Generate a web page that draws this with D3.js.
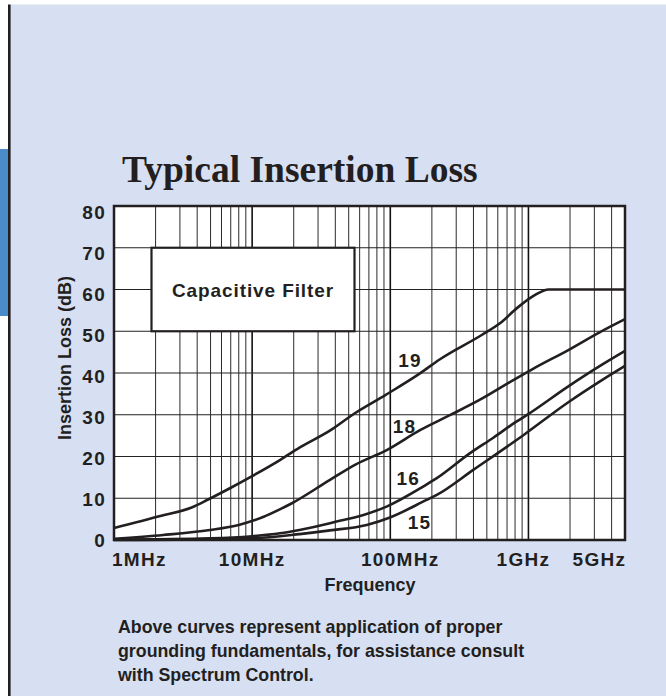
<!DOCTYPE html>
<html>
<head>
<meta charset="utf-8">
<script src="https://cdn.jsdelivr.net/npm/d3@7"></script>
<style>
  html, body { margin: 0; padding: 0; background: #fff; }
  svg { display: block; }
</style>
</head>
<body>
<svg id="chart" width="666" height="696"></svg>
<script>
// ---- data: frequency in MHz, insertion loss in dB ----
const curveNames = ["19", "18", "16", "15"];

const freq19 = [1, 2.2, 3.65, 4.8, 6.9, 10, 16, 22, 37, 55, 92, 164, 229, 459, 622, 830, 1080, 1210, 1390, 5000];
const loss19 = [2.9, 5.8, 7.8, 9.7, 12.4, 15.3, 19.2, 22.1, 26.3, 30.3, 34.7, 39.9, 43.3, 49.1, 51.9, 55.6, 58.4, 59.3, 60, 60];

const freq18 = [1, 2.27, 4.95, 8, 12, 16, 19.4, 36.6, 55.5, 95, 164, 270, 446, 777, 1080, 1944, 3296, 5000];
const loss18 = [0.3, 1.2, 2.4, 3.6, 5.5, 7.4, 8.8, 14.4, 18.0, 21.6, 26.3, 29.9, 33.6, 38.3, 41.0, 45.5, 49.8, 52.9];

const freq16 = [1, 5, 10, 15.9, 22, 36.6, 43, 64, 94, 173, 217, 378, 557, 822, 971, 1944, 3296, 5000];
const loss16 = [0.1, 0.4, 0.9, 1.6, 2.4, 4.0, 4.6, 6.0, 8.0, 12.8, 14.8, 20.8, 24.5, 28.4, 29.9, 36.8, 41.7, 45.3];

const freq15 = [1, 10, 22, 36.6, 67.5, 99.5, 183, 217, 399, 918, 1944, 3296, 5000];
const loss15 = [0, 0.4, 1.4, 2.3, 3.6, 5.4, 9.6, 10.8, 16.8, 25.1, 33.0, 38.0, 41.7];

const yTickValues = [0, 10, 20, 30, 40, 50, 60, 70, 80];
const xTickValues = [1, 10, 100, 1000, 5000];
const xTickLabels = ["1MHz", "10MHz", "100MHz", "1GHz", "5GHz"];

const titleText = "Typical Insertion Loss";
const boxText = "Capacitive Filter";
const yTitle = "Insertion Loss (dB)";
const xTitle = "Frequency";
const noteLines = [
  "Above curves represent application of proper",
  "grounding fundamentals, for assistance consult",
  "with Spectrum Control."
];

// ---- drawing ----
const INK = "#231f20";
const SANS = "'Liberation Sans', Arial, Helvetica, sans-serif";
const SERIF = "'Liberation Serif', 'Times New Roman', serif";

const svg = d3.select("#chart");

// page: white margin, blue panel, dark rule and side tab
svg.append("rect").attr("width", 666).attr("height", 696).attr("fill", "#fff");
svg.append("rect").attr("x", 10).attr("y", 4.5).attr("width", 656).attr("height", 692).attr("fill", "#d7e0f2");
svg.append("rect").attr("x", 0).attr("y", 149).attr("width", 8).attr("height", 167).attr("fill", "#4a8bca");
svg.append("rect").attr("x", 8).attr("y", 4.5).attr("width", 2.6).attr("height", 692).attr("fill", INK);

svg.append("text")
  .attr("x", 122).attr("y", 182)
  .attr("font-family", SERIF).attr("font-weight", "bold").attr("font-size", 37.5)
  .attr("fill", INK)
  .text(titleText);

const plot = { left: 114, right: 625, top: 206, bottom: 540 };

const x = d3.scaleLog().domain([1, 5000]).range([plot.left, plot.right]);
const y = d3.scaleLinear().domain([0, 80]).range([plot.bottom, plot.top]);
// the dB figures down the left are set on a slightly tighter pitch than the grid
const yLabel = d3.scaleLinear().domain([0, 80]).range([539.5, 211.5]);

const g = svg.append("g");

g.append("rect")
  .attr("x", plot.left).attr("y", plot.top)
  .attr("width", plot.right - plot.left).attr("height", plot.bottom - plot.top)
  .attr("fill", "#fff");

// vertical log grid: 1..9 per decade
const gridFreqs = [];
[1, 10, 100, 1000].forEach(d => {
  for (let m = 1; m <= 9; m++) {
    const f = d * m;
    if (f > 1 && f < 5000) gridFreqs.push(f);
  }
});
const isDecade = f => [10, 100, 1000].includes(f);
g.append("g").selectAll("line").data(gridFreqs).join("line")
  .attr("x1", d => x(d)).attr("x2", d => x(d))
  .attr("y1", plot.top).attr("y2", plot.bottom)
  .attr("stroke", d => isDecade(d) ? "#111" : "#2a2a2a")
  .attr("stroke-width", d => isDecade(d) ? 1.6 : 1);

// horizontal grid every 10 dB
g.append("g").selectAll("line").data(yTickValues.slice(1, -1)).join("line")
  .attr("x1", plot.left).attr("x2", plot.right)
  .attr("y1", d => y(d)).attr("y2", d => y(d))
  .attr("stroke", "#222").attr("stroke-width", 1);

// legend box
const boxLeft = 151.5, boxRight = 354.5;
g.append("rect")
  .attr("x", boxLeft).attr("y", y(70))
  .attr("width", boxRight - boxLeft).attr("height", y(50) - y(70))
  .attr("fill", "#fff").attr("stroke", INK).attr("stroke-width", 2.2);
g.append("text")
  .attr("x", (boxLeft + boxRight) / 2).attr("y", y(60) + 7)
  .attr("text-anchor", "middle")
  .attr("font-family", SANS).attr("font-weight", "bold").attr("font-size", 19)
  .attr("letter-spacing", 0.9)
  .attr("fill", INK)
  .text(boxText);

// curves
const series = [
  { name: "19", f: freq19, v: loss19 },
  { name: "18", f: freq18, v: loss18 },
  { name: "16", f: freq16, v: loss16 },
  { name: "15", f: freq15, v: loss15 }
];
const line = d3.line()
  .x(d => x(d[0])).y(d => y(d[1]))
  .curve(d3.curveMonotoneX);

g.append("g").selectAll("path").data(series).join("path")
  .attr("d", s => line(s.f.map((f, i) => [f, s.v[i]])))
  .attr("fill", "none").attr("stroke", INK)
  .attr("stroke-width", 2.6).attr("stroke-linejoin", "round");

// curve names, placed in chart units (MHz, dB) at their left baseline
const nameAnchors = { "19": [114, 41.4], "18": [104, 25.6], "16": [111, 13.2], "15": [134, 2.6] };
g.append("g").selectAll("text").data(curveNames).join("text")
  .attr("x", d => x(nameAnchors[d][0])).attr("y", d => y(nameAnchors[d][1]))
  .attr("font-family", SANS).attr("font-weight", "bold").attr("font-size", 19)
  .attr("letter-spacing", 1.2)
  .attr("fill", INK)
  .text(d => d);

// frame
g.append("rect")
  .attr("x", plot.left).attr("y", plot.top)
  .attr("width", plot.right - plot.left).attr("height", plot.bottom - plot.top)
  .attr("fill", "none").attr("stroke", INK).attr("stroke-width", 2.5);

// y tick labels
svg.append("g").selectAll("text").data(yTickValues).join("text")
  .attr("x", 106).attr("y", d => yLabel(d) + 7)
  .attr("text-anchor", "end")
  .attr("font-family", SANS).attr("font-weight", "bold").attr("font-size", 19)
  .attr("letter-spacing", 1.3)
  .attr("fill", INK)
  .text(d => d);

// x tick labels: outer ones flush with the frame, inner ones centred
const lastTick = xTickValues.length - 1;
const xNudge = { 100: 10, 1000: -5 };
svg.append("g").selectAll("text").data(xTickValues).join("text")
  .attr("x", (d, i) => i === 0 ? x(d) - 2 : (i === lastTick ? x(d) + 1.3 : x(d) + (xNudge[d] || 0)))
  .attr("y", 566)
  .attr("text-anchor", (d, i) => i === 0 ? "start" : (i === lastTick ? "end" : "middle"))
  .attr("font-family", SANS).attr("font-weight", "bold").attr("font-size", 19)
  .attr("letter-spacing", 1.3)
  .attr("fill", INK)
  .text((d, i) => xTickLabels[i]);

// axis titles
svg.append("text")
  .attr("transform", "translate(71,358) rotate(-90)")
  .attr("text-anchor", "middle")
  .attr("font-family", SANS).attr("font-weight", "bold").attr("font-size", 18)
  .attr("fill", INK)
  .text(yTitle);

svg.append("text")
  .attr("x", 370).attr("y", 591)
  .attr("text-anchor", "middle")
  .attr("font-family", SANS).attr("font-weight", "bold").attr("font-size", 18)
  .attr("fill", INK)
  .text(xTitle);

// footnote
svg.append("g").selectAll("text").data(noteLines).join("text")
  .attr("x", 118).attr("y", (d, i) => 633 + i * 24)
  .attr("font-family", SANS).attr("font-weight", "bold").attr("font-size", 17.8)
  .attr("fill", INK)
  .text(d => d);
</script>
</body>
</html>
